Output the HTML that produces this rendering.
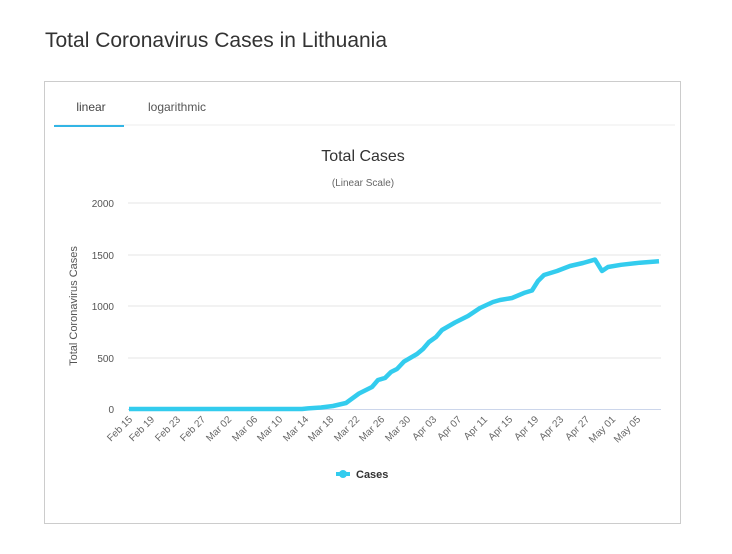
<!DOCTYPE html>
<html><head><style>
body{margin:0;background:#fff;width:732px;height:554px;overflow:hidden;font-family:"Liberation Sans",sans-serif}
h1{position:absolute;left:45px;top:29px;margin:0;font-weight:normal;font-size:21px;color:#333}
.box{position:absolute;left:44px;top:81px;width:635px;height:441px;border:1px solid #ccc}
</style></head><body>
<h1>Total Coronavirus Cases in Lithuania</h1>
<div class="box"></div>
<svg width="732" height="554" style="position:absolute;left:0;top:0" font-family="Liberation Sans, sans-serif">
<line x1="55" y1="125" x2="675" y2="125" stroke="#eee"/>
<text x="91" y="111" font-size="12" fill="#444" text-anchor="middle">linear</text>
<text x="177" y="111" font-size="12" fill="#555" text-anchor="middle">logarithmic</text>
<rect x="54" y="125" width="70" height="2" fill="#33b5e5"/>
<text x="363" y="161" font-size="16" fill="#333" text-anchor="middle">Total Cases</text>
<text x="363" y="186" font-size="10" fill="#666" text-anchor="middle">(Linear Scale)</text>
<g stroke="#e6e6e6"><line x1="128" y1="203" x2="661" y2="203"/><line x1="128" y1="255" x2="661" y2="255"/><line x1="128" y1="306" x2="661" y2="306"/><line x1="128" y1="358" x2="661" y2="358"/></g>
<line x1="128" y1="409.5" x2="661" y2="409.5" stroke="#ccd6eb"/>
<g font-size="10" fill="#555" text-anchor="end"><text x="114" y="207">2000</text><text x="114" y="259">1500</text><text x="114" y="310">1000</text><text x="114" y="362">500</text><text x="114" y="413">0</text></g>
<text transform="translate(77,306) rotate(-90)" font-size="11" fill="#555" text-anchor="middle">Total Coronavirus Cases</text>
<g font-size="10" fill="#666" text-anchor="end">
<text transform="translate(133,420) rotate(-45)">Feb 15</text>
<text transform="translate(155,420) rotate(-45)">Feb 19</text>
<text transform="translate(181,420) rotate(-45)">Feb 23</text>
<text transform="translate(206,420) rotate(-45)">Feb 27</text>
<text transform="translate(232,420) rotate(-45)">Mar 02</text>
<text transform="translate(258,420) rotate(-45)">Mar 06</text>
<text transform="translate(283,420) rotate(-45)">Mar 10</text>
<text transform="translate(309,420) rotate(-45)">Mar 14</text>
<text transform="translate(334,420) rotate(-45)">Mar 18</text>
<text transform="translate(360,420) rotate(-45)">Mar 22</text>
<text transform="translate(385,420) rotate(-45)">Mar 26</text>
<text transform="translate(411,420) rotate(-45)">Mar 30</text>
<text transform="translate(437,420) rotate(-45)">Apr 03</text>
<text transform="translate(462,420) rotate(-45)">Apr 07</text>
<text transform="translate(488,420) rotate(-45)">Apr 11</text>
<text transform="translate(513,420) rotate(-45)">Apr 15</text>
<text transform="translate(539,420) rotate(-45)">Apr 19</text>
<text transform="translate(564,420) rotate(-45)">Apr 23</text>
<text transform="translate(590,420) rotate(-45)">Apr 27</text>
<text transform="translate(616,420) rotate(-45)">May 01</text>
<text transform="translate(641,420) rotate(-45)">May 05</text>
</g>
<polyline fill="none" stroke="#33ccee" stroke-width="4.5" stroke-linejoin="round" points="129,409 302,409 308,408.4 321,407.5 333,406 346,403 359,393.5 372,387 378,380 385,378 391,372 397,369 404,361.6 417,354 423,349 429,342 436,337 442,330 455,322.5 468,316 480,308 493,302 500,300 512,298 525,292.6 532,290.5 538,281 544,275 557,271 570,266 583,263 595,259.6 602,271 608,267 621,264.8 640,262.7 659,261.2"/>
<line x1="336" y1="474" x2="350" y2="474" stroke="#33ccee" stroke-width="4"/>
<circle cx="343" cy="474" r="4" fill="#33ccee"/>
<text x="356" y="478" font-size="11" font-weight="bold" fill="#333">Cases</text>
</svg>
</body></html>
